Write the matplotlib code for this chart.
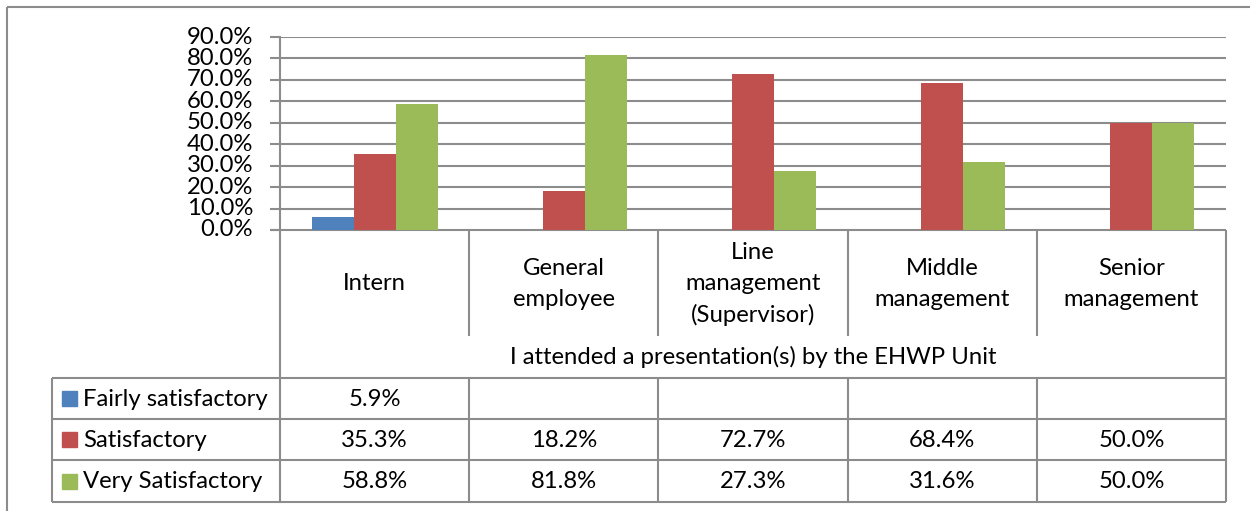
import numpy as np
import matplotlib
matplotlib.use("Agg")
import matplotlib.pyplot as plt
from matplotlib.patches import Rectangle

plt.rcParams['font.family'] = ['Lato', 'DejaVu Sans']

# data (percent)
categories = ["Intern", "General\nemployee", "Line\nmanagement\n(Supervisor)",
              "Middle\nmanagement", "Senior\nmanagement"]
series_names = ["Fairly satisfactory", "Satisfactory", "Very Satisfactory"]
fairly = [5.9, None, None, None, None]
satisfactory = [35.3, 18.2, 72.7, 68.4, 50.0]
very = [58.8, 81.8, 27.3, 31.6, 50.0]
row_title = "I attended a presentation(s) by the EHWP Unit"
yticks = np.arange(0, 91, 10)

colors = ["#4F81BD", "#C0504D", "#9BBB59"]
grey = "#8C8C8C"
fs = 17.2
lw = 1.5

W, H = 1250, 511
fig = plt.figure(figsize=(W / 100, H / 100), dpi=100)

# pixel layout
x0, x1 = 280, 1226      # plot area left / right
ytop, ybot = 37, 230    # 90% line / 0% line
ax = fig.add_axes([x0 / W, 1 - ybot / H, (x1 - x0) / W, (ybot - ytop) / H])

n = len(categories)
xs = np.arange(n)
bw = 1 / 4.5
all_series = [fairly, satisfactory, very]
for k, vals in enumerate(all_series):
    v = [np.nan if s is None else s for s in vals]
    ax.bar(xs + (k - 1) * bw, v, width=bw, color=colors[k], zorder=3)

ax.set_xlim(-0.5, n - 0.5)
ax.set_ylim(0, 90)
ax.set_yticks(yticks)
ax.set_yticklabels(["%.1f%%" % t for t in yticks], fontsize=fs)
ax.yaxis.grid(True, color=grey, lw=lw, zorder=0)
ax.set_xticks([])
for s in ["top", "right", "bottom"]:
    ax.spines[s].set_visible(False)
ax.spines["left"].set_color(grey)
ax.spines["left"].set_linewidth(lw)
ax.tick_params(axis="y", length=7, width=lw, color=grey, pad=12.5)
for lab in ax.get_yticklabels():
    lab.set_verticalalignment("center")

# overlay for the data table, in pixel coordinates
ov = fig.add_axes([0, 0, 1, 1], zorder=-1)
ov.set_xlim(0, W)
ov.set_ylim(H, 0)
ov.axis("off")

def line(xa, ya, xb, yb):
    ov.plot([xa, xb], [ya, yb], color=grey, lw=lw, solid_capstyle="butt")

# outer frame
line(7, 7, W, 7)
line(7, 7, 7, H)

cw = (x1 - x0) / n
bounds = [x0 + i * cw for i in range(n + 1)]
y_cat, y_title, rows = 336, 378, [378, 419, 460, 502]
xl = 52

line(x0 - 9, ybot, x1, ybot)
line(x0, ybot, x0, rows[-1])
line(x1, ybot, x1, rows[-1])
for b in bounds[1:-1]:
    line(b, ybot, b, y_cat)
    line(b, rows[0], b, rows[-1])
for r in rows:
    line(xl, r, x1, r)
line(xl, rows[0], xl, rows[-1])

for i, c in enumerate(categories):
    ov.text((bounds[i] + bounds[i + 1]) / 2, (ybot + y_cat) / 2 + 1, c,
            ha="center", va="center", fontsize=fs, linespacing=1.54)
ov.text((x0 + x1) / 2, (y_cat + y_title) / 2, row_title,
        ha="center", va="center", fontsize=fs)

for k, vals in enumerate(all_series):
    yc = (rows[k] + rows[k + 1]) / 2
    ov.add_patch(Rectangle((62, yc - 7), 15, 15, color=colors[k]))
    ov.text(83, yc + 1, series_names[k], ha="left", va="center", fontsize=fs)
    for i, v in enumerate(vals):
        if v is not None:
            ov.text((bounds[i] + bounds[i + 1]) / 2, yc + 1, "%.1f%%" % v,
                    ha="center", va="center", fontsize=fs)

fig.savefig("out.png", dpi=100, facecolor="white")
